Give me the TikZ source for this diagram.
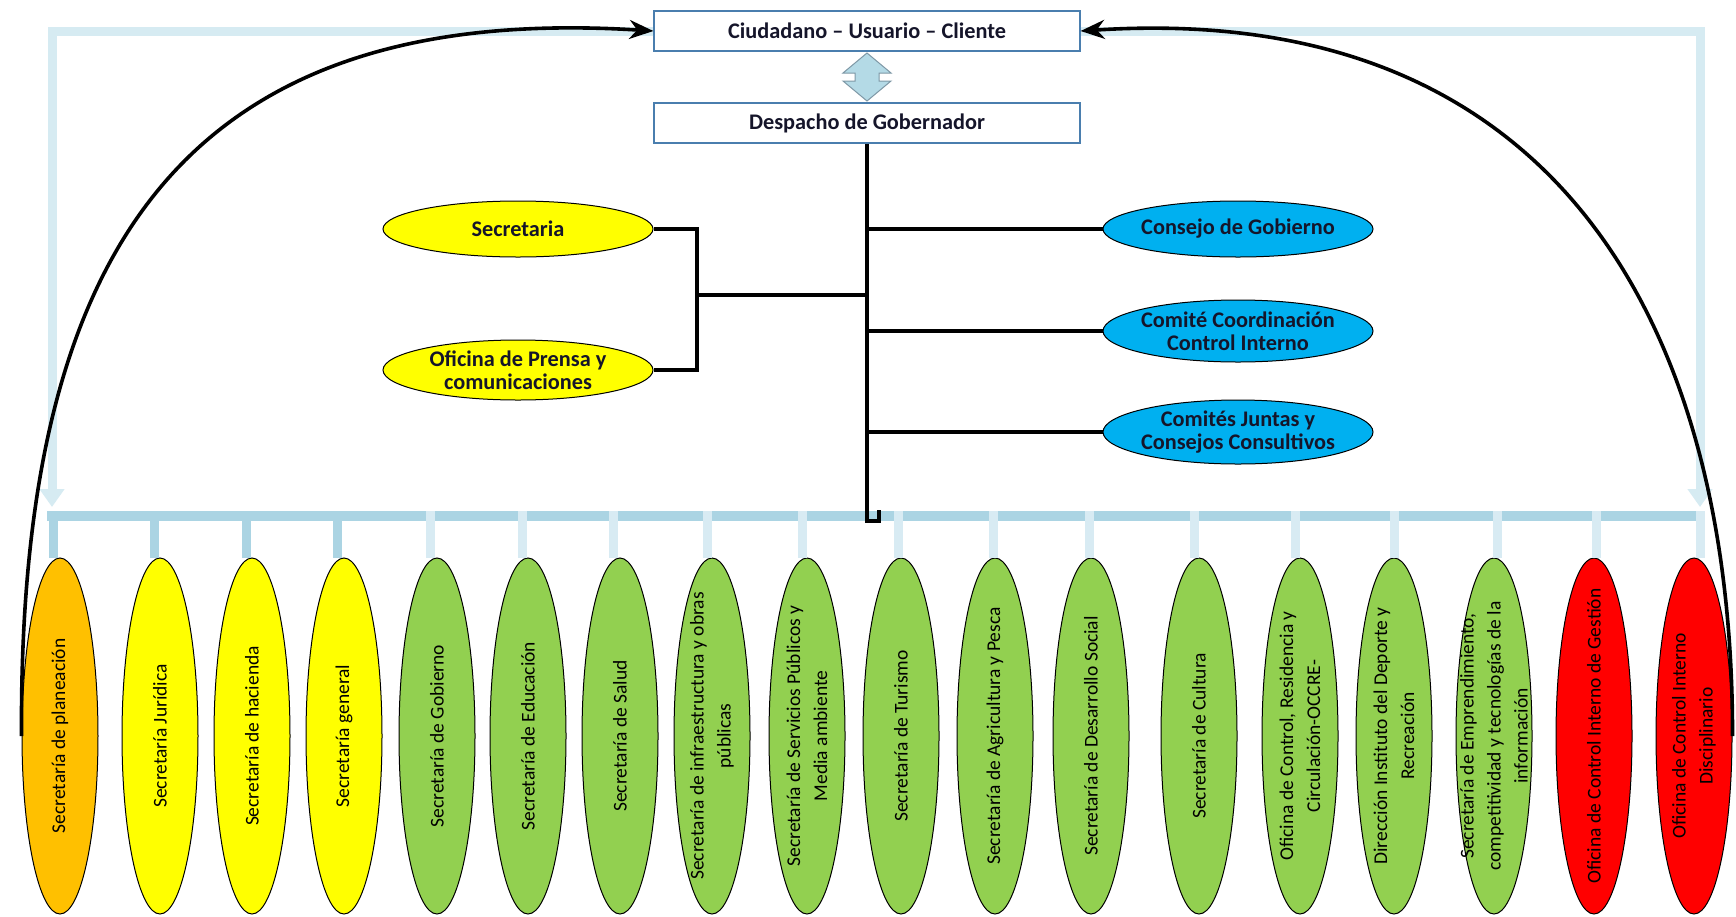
\documentclass[tikz,border=0pt]{standalone}
\usepackage{fontspec}
\setmainfont{Carlito}
\usetikzlibrary{shapes.geometric,arrows.meta}

\definecolor{framebl}{HTML}{D6EBF2}
\definecolor{barbl}{HTML}{ABD4E3}
\definecolor{paledrop}{HTML}{D8EBF3}
\definecolor{arrowfill}{HTML}{B4DAE6}
\definecolor{arrowedge}{HTML}{7E98A6}
\definecolor{boxedge}{HTML}{4A7EAE}
\definecolor{cyanfill}{HTML}{00B0F0}
\definecolor{yel}{HTML}{FFFF00}
\definecolor{org}{HTML}{FFC000}
\definecolor{grn}{HTML}{92D050}
\definecolor{redf}{HTML}{FF0000}
\definecolor{inkdark}{HTML}{15152A}

\begin{document}
\begin{tikzpicture}[x=1pt,y=-1pt,
  topbox/.style={draw=boxedge, line width=1.2pt, fill=white,
    minimum width=426pt, minimum height=40pt, inner sep=0pt,
    text=inkdark, font=\fontsize{22.3}{23}\selectfont\bfseries},
  midell/.style={ellipse, draw=black, line width=1pt,
    minimum width=270pt, inner sep=0pt},
  midlabel/.style={align=center, inner sep=0pt, text=inkdark,
    font=\fontsize{22.3}{23}\selectfont\bfseries},
  unit/.style={ellipse, draw=black, line width=1pt,
    minimum width=76pt, minimum height=356pt, inner sep=0pt},
  unitlabel/.style={rotate=90, align=center, inner sep=0pt,
    font=\fontsize{19.5}{27}\selectfont},
  trunk/.style={line width=3.2pt, black},
  framearrow/.style={framebl, line width=9pt,
    -{Triangle[length=18pt,width=24pt]}},
  loop/.style={line width=3.6pt, black, -{Stealth[length=24pt,width=19pt]}},
]
\useasboundingbox (0,0) rectangle (1736,916);
\fill[white] (0,0) rectangle (1736,916);

% head boxes
\node[topbox] (ciu) at (867,31) {Ciudadano – Usuario – Cliente};
\node[topbox] (desp) at (867,123) {Despacho de Gobernador};

% pale frame from the citizen box down to the distribution bar
\coordinate (fl) at (52,507);
\coordinate (fr) at (1700,507);
\draw[framearrow] (ciu.west) -| (fl);
\draw[framearrow] (ciu.east) -| (fr);

% two-way arrow between citizen and governor
\draw[fill=arrowfill, draw=arrowedge, line width=1pt, line join=miter]
  (867,53) -- (891,73) -- (879,73) -- (879,81) -- (891,81) -- (867,101)
  -- (843,81) -- (855,81) -- (855,73) -- (843,73) -- cycle;

% distribution bar
\coordinate (barL) at (47,516);
\coordinate (barR) at (1705,516);
\draw[barbl, line width=10pt] (barL) -- (barR);

% dependencies
\foreach \i/\cx/\fc/\txt in {
  1/60/org/{Secretaría de planeación},
  2/160/yel/{Secretaría Jurídica},
  3/252/yel/{Secretaría de hacienda},
  4/344/yel/{Secretaría general},
  5/437/grn/{Secretaría de Gobierno},
  6/528/grn/{Secretaría de Educación},
  7/620/grn/{Secretaría de Salud},
  8/712/grn/{Secretaría de infraestructura y obras\\públicas},
  9/807/grn/{Secretaría de Servicios Públicos y\\Media ambiente},
  10/901/grn/{Secretaría de Turismo},
  11/995/grn/{Secretaría de Agricultura y Pesca},
  12/1091/grn/{Secretaría de Desarrollo Social},
  13/1199/grn/{Secretaría de Cultura},
  14/1300/grn/{Oficina de Control, Residencia y\\Circulación-OCCRE-},
  15/1394/grn/{Dirección Instituto del Deporte y\\Recreación},
  16/1494/grn/{Secretaría de Emprendimiento,\\competitividad y tecnologías de la\\información},
  17/1594/redf/{Oficina de Control Interno de Gestión},
  18/1694/redf/{Oficina de Control Interno\\Disciplinario}}
{
  \node[unit, fill=\fc] (e\i) at (\cx,736) {};
  \node[unitlabel] at (e\i) {\txt};
}

% drops from the bar to each dependency
\foreach \i/\dx in {1/53,2/154,3/246,4/337}
  \draw[barbl, line width=9pt] (\dx,516) -- (\dx,0 |- e\i.north);
\foreach \i/\dx in {5/430,6/522,7/613,8/707,9/802,10/898,11/993,12/1089,
                    13/1194,14/1295,15/1394,16/1497,17/1596,18/1700}
  \draw[paledrop, line width=9pt] (\dx,511) -- (\dx,0 |- e\i.north);

% advisory bodies
\node[midell, fill=yel, minimum height=56pt] (sec) at (518,229) {};
\node[midlabel] at (sec) {Secretaria};
\node[midell, fill=yel, minimum height=60pt] (ofi) at (518,370) {};
\node[midlabel] at (ofi) {Oficina de Prensa y\\comunicaciones};
\node[midell, fill=cyanfill, minimum height=56pt] (cons) at (1238,229) {};
\node[midlabel] at (cons) {Consejo de Gobierno};
\node[midell, fill=cyanfill, minimum height=62pt] (comi) at (1238,331) {};
\node[midlabel] at (comi) {Comité Coordinación\\Control Interno};
\node[midell, fill=cyanfill, minimum height=64pt] (junt) at (1238,432) {};
\node[midlabel] at (junt) {Comités Juntas y\\Consejos Consultivos};

% governor trunk and branches
\coordinate (tb) at (867,521);
\draw[trunk] (desp.south) -- (tb) -- ++(12,0) -- ++(0,-11);
\coordinate (jv) at (697,295);
\draw[trunk] (sec.east) -| (jv) |- (ofi.east);
\draw[trunk] (jv) -- (jv -| desp.south);
\draw[trunk] (cons.west) -- (cons.west -| desp.south);
\draw[trunk] (comi.west) -- (comi.west -| desp.south);
\draw[trunk] (junt.west) -- (junt.west -| desp.south);

% feedback loops to the citizen
\draw[loop] (e1.west) .. controls (19,280) and (160,0) .. (ciu.west);
\draw[loop] (e18.east) .. controls (1733,330) and (1560,0) .. (ciu.east);
\end{tikzpicture}
\end{document}
